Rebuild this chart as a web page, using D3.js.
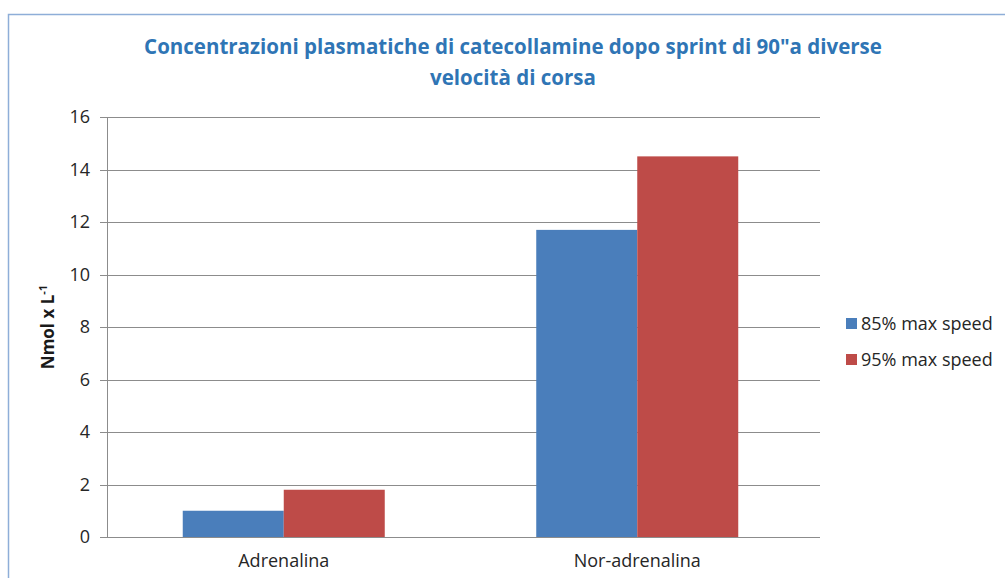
<!DOCTYPE html>
<html>
<head>
<meta charset="utf-8">
<script src="https://cdn.jsdelivr.net/npm/d3@7"></script>
<style>
  body { margin: 0; background: #fff; }
  svg { display: block; font-family: "Open Sans", sans-serif; }
</style>
</head>
<body>
<svg id="chart" width="1005" height="578"></svg>
<script>
"use strict";

/********/
/* data */
/********/

const categories = ["Adrenalina", "Nor-adrenalina"];
const seriesNames = ["85% max speed", "95% max speed"];
const speed85 = [1.0, 11.7];
const speed95 = [1.8, 14.5];
const yTicks = [0, 2, 4, 6, 8, 10, 12, 14, 16];
const colours = ["#4a7ebb", "#be4b48"];

/********/
/* view */
/********/

const svg = d3.select("#chart");
const margin = { top: 117, left: 107 };
const width = 707;
const gridWidth = 713;
const height = 420;

// outer frame (only top and left edges are visible)
svg.append("path")
  .attr("d", "M8.5,578 V14.5 H1005")
  .attr("fill", "none")
  .attr("stroke", "#8eaed8")
  .attr("stroke-width", 1.5);

// title
const title = svg.append("text")
  .attr("text-anchor", "middle")
  .attr("fill", "#2f75b5")
  .attr("font-weight", "bold")
  .attr("font-size", "20.5px");
title.append("tspan").attr("x", 513).attr("y", 54)
  .text("Concentrazioni plasmatiche di catecollamine dopo sprint di 90\"a diverse");
title.append("tspan").attr("x", 513).attr("y", 85)
  .text("velocità di corsa");

const g = svg.append("g")
  .attr("transform", "translate(" + margin.left + "," + margin.top + ")");

const x0 = d3.scaleBand().domain(categories).range([0, width]).padding(0);
const x1 = d3.scaleBand().domain(d3.range(seriesNames.length))
  .range([0, x0.bandwidth()]).paddingInner(0).paddingOuter(0.75);
const y = d3.scaleLinear().domain([0, 16]).range([height, 0]);

// gridlines
g.append("g")
  .selectAll("line")
  .data(yTicks)
  .join("line")
  .attr("x1", -7)
  .attr("x2", gridWidth)
  .attr("y1", d => Math.round(y(d)) + 0.5)
  .attr("y2", d => Math.round(y(d)) + 0.5)
  .attr("stroke", "#8c8c8c")
  .attr("stroke-width", 1);

// y axis
const yAxis = g.append("g")
  .call(d3.axisLeft(y).tickValues(yTicks).tickSize(0).tickPadding(17));
yAxis.select(".domain").attr("stroke", "#8c8c8c");
yAxis.selectAll("text")
  .attr("font-size", "18px")
  .attr("fill", "#262626")
  .attr("font-family", "Open Sans, sans-serif");

// bars
const series = [speed85, speed95];
g.append("g")
  .selectAll("g")
  .data(series)
  .join("g")
  .attr("fill", (d, i) => colours[i])
  .each(function(values, si) {
    d3.select(this)
      .selectAll("rect")
      .data(values)
      .join("rect")
      .attr("x", (v, ci) => x0(categories[ci]) + x1(si))
      .attr("y", v => y(v))
      .attr("width", x1.bandwidth())
      .attr("height", v => height - y(v));
  });

// x axis
const xAxis = g.append("g")
  .attr("transform", "translate(0," + (height + 0.5) + ")")
  .call(d3.axisBottom(x0).tickSize(0).tickPadding(17));
xAxis.select(".domain").attr("d", "M0,0H" + gridWidth).attr("stroke", "#8c8c8c");
xAxis.selectAll("text")
  .attr("font-size", "18px")
  .attr("fill", "#262626")
  .attr("font-family", "Open Sans, sans-serif");

// y axis label
const yLabel = svg.append("text")
  .attr("transform", "translate(54,327) rotate(-90)")
  .attr("text-anchor", "middle")
  .attr("font-size", "17px")
  .attr("font-weight", "bold")
  .attr("fill", "#1a1a1a");
yLabel.append("tspan").text("Nmol x L");
yLabel.append("tspan").attr("dy", -7).attr("font-size", "11px").text("-1");

// legend
const legend = svg.append("g")
  .selectAll("g")
  .data(seriesNames)
  .join("g")
  .attr("transform", (d, i) => "translate(846," + (318 + i * 36) + ")");
legend.append("rect")
  .attr("width", 11)
  .attr("height", 11)
  .attr("fill", (d, i) => colours[i]);
legend.append("text")
  .attr("x", 15)
  .attr("y", 5.5)
  .attr("dy", "0.35em")
  .attr("font-size", "18px")
  .attr("fill", "#262626")
  .text(d => d);
</script>
</body>
</html>
